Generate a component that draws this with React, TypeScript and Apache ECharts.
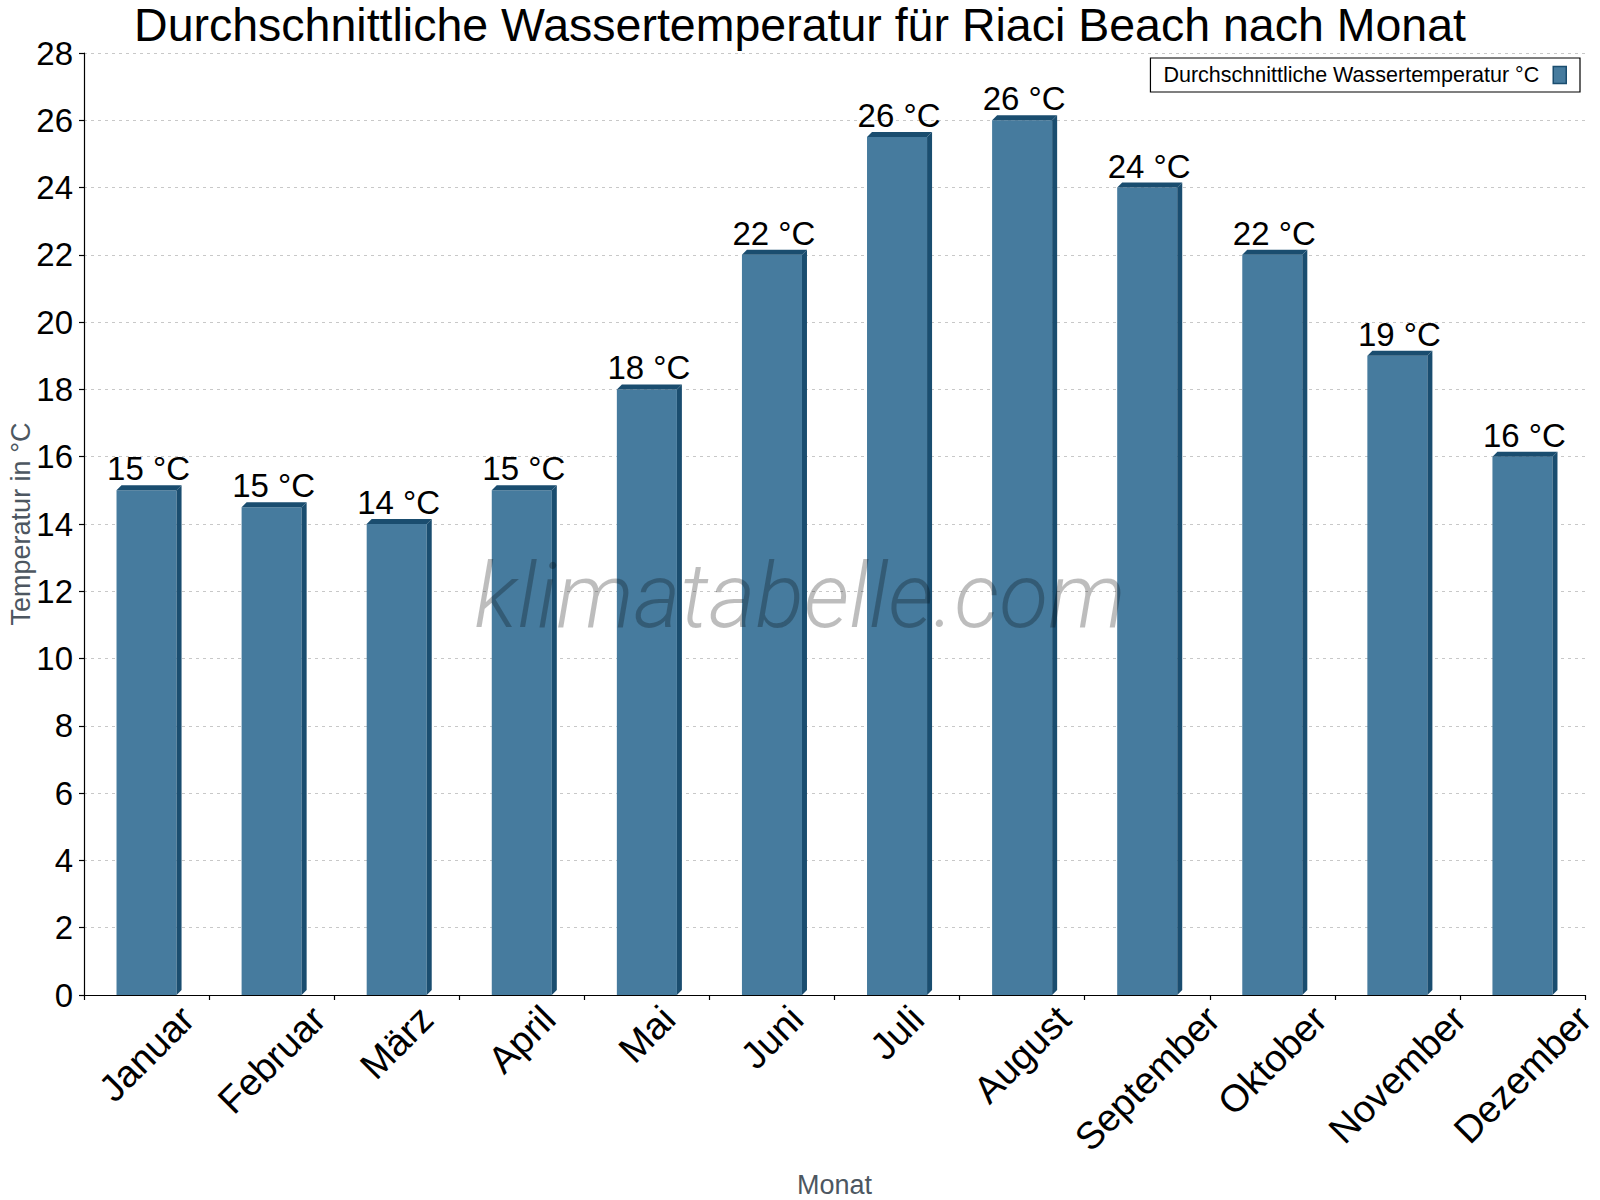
import React, { useEffect, useRef } from 'react';
import * as echarts from 'echarts';

const MONTHS = ['Januar', 'Februar', 'März', 'April', 'Mai', 'Juni', 'Juli', 'August', 'September', 'Oktober', 'November', 'Dezember'];
const WATER_TEMPS = [15, 14.5, 14, 15, 18, 22, 25.5, 26, 24, 22, 19, 16];
const Y_MIN = 0;
const Y_MAX = 28;
const Y_STEP = 2;

const TITLE = 'Durchschnittliche Wassertemperatur für Riaci Beach nach Monat';
const SERIES_NAME = 'Durchschnittliche Wassertemperatur °C';
const X_NAME = 'Monat';
const Y_NAME = 'Temperatur in °C';
const WATERMARK = 'klimatabelle.com';

const FRONT = '#467b9e';
const DARK = '#1a4d6f';
const FONT = '"Liberation Sans", Arial, Helvetica, sans-serif';
const CAT_SIZE = 38;
const DEPTH = 5;

// canvas used only to measure month label widths
const measureCtx = document.createElement('canvas').getContext('2d');
const textWidth = (t: string) => {
  if (!measureCtx) return t.length * CAT_SIZE * 0.55;
  measureCtx.font = `${CAT_SIZE}px "Liberation Sans"`;
  return measureCtx.measureText(t).width;
};

export default function App() {
  const chartRef = useRef<HTMLDivElement>(null);

  useEffect(() => {
    document.body.style.margin = '0';
    if (!chartRef.current) return;
    const chart = echarts.init(chartRef.current, undefined, { renderer: 'svg' });

    const option = {
      animation: false,
      backgroundColor: '#fff',
      title: {
        text: TITLE,
        left: 'center',
        top: 1,
        padding: 0,
        textStyle: { fontFamily: FONT, fontSize: 46.5, fontWeight: 'normal', color: '#000' }
      },
      legend: {
        data: [{ name: SERIES_NAME, icon: 'rect', itemStyle: { color: FRONT, borderColor: DARK, borderWidth: 1.5 } }],
        right: 20,
        top: 58,
        align: 'right',
        itemWidth: 13,
        itemHeight: 17,
        padding: [6, 13, 6, 13],
        borderColor: '#000',
        borderWidth: 1.2,
        borderRadius: 0,
        selectedMode: false,
        textStyle: { fontFamily: FONT, fontSize: 21.5, color: '#000', padding: [0, 9, 0, 0] }
      },
      grid: { left: 84, right: 15, top: 53, bottom: 205, containLabel: false, outerBoundsMode: 'none' },
      xAxis: {
        type: 'category',
        data: MONTHS,
        boundaryGap: true,
        name: X_NAME,
        nameLocation: 'middle',
        nameGap: 176,
        nameMoveOverlap: false,
        nameTextStyle: { fontFamily: FONT, fontSize: 27, color: '#4d5761' },
        axisLine: { lineStyle: { color: '#000', width: 1.2 } },
        axisTick: { show: true, length: 5, lineStyle: { color: '#000', width: 1.2 } },
        axisLabel: { show: false },
        splitLine: { show: false }
      },
      yAxis: {
        type: 'value',
        min: Y_MIN,
        max: Y_MAX,
        interval: Y_STEP,
        name: Y_NAME,
        nameLocation: 'middle',
        nameGap: 50,
        nameMoveOverlap: false,
        nameTextStyle: { fontFamily: FONT, fontSize: 27, color: '#4d5761' },
        axisLine: { show: true, lineStyle: { color: '#000', width: 1.2 } },
        axisTick: { show: true, length: 5, lineStyle: { color: '#000', width: 1.2 } },
        axisLabel: { fontFamily: FONT, fontSize: 33, color: '#000', margin: 11 },
        splitLine: { show: true, lineStyle: { color: '#c8c8c8', type: [3, 4], width: 1 } }
      },
      graphic: [
        {
          type: 'text',
          x: 800,
          y: 596,
          z: 100,
          silent: true,
          style: {
            text: WATERMARK,
            align: 'center',
            verticalAlign: 'middle',
            fontFamily: 'Roboto',
            fontStyle: 'italic',
            fontWeight: 300,
            fontSize: 90,
            fill: 'rgba(0,0,0,0.26)'
          }
        }
      ],
      series: [
        {
          name: SERIES_NAME,
          type: 'custom',
          itemStyle: { color: FRONT },
          data: WATER_TEMPS.map((v, i) => [i, v]),
          encode: { x: 0, y: 1 },
          renderItem: (params: any, api: any) => {
            const i = api.value(0);
            const v = api.value(1);
            const top = api.coord([i, v]);
            const base = api.coord([i, 0]);
            const w = api.size([1, 0])[0] * 0.48;
            const x0 = top[0] - w / 2;
            const x1 = top[0] + w / 2;
            const yt = top[1];
            const yb = base[1];
            return {
              type: 'group',
              children: [
                { type: 'rect', shape: { x: x0, y: yt, width: w, height: yb - yt }, style: { fill: FRONT } },
                {
                  type: 'polygon',
                  shape: { points: [[x0, yt], [x0 + DEPTH, yt - DEPTH], [x1 + DEPTH, yt - DEPTH], [x1, yt]] },
                  style: { fill: DARK }
                },
                {
                  type: 'polygon',
                  shape: { points: [[x1, yt], [x1 + DEPTH, yt - DEPTH], [x1 + DEPTH, yb - DEPTH], [x1, yb]] },
                  style: { fill: DARK }
                },
                {
                  type: 'text',
                  style: {
                    text: `${Math.round(v)} °C`,
                    x: top[0] + 2,
                    y: yt - DEPTH,
                    align: 'center',
                    verticalAlign: 'bottom',
                    fontFamily: FONT,
                    fontSize: 33,
                    fill: '#000'
                  }
                }
              ]
            };
          }
        },
        {
          type: 'custom',
          silent: true,
          data: MONTHS.map((_, i) => [i, 0]),
          encode: { x: 0, y: 1 },
          renderItem: (params: any, api: any) => {
            const i = api.value(0);
            const p = api.coord([i, 0]);
            const label = MONTHS[i];
            const L = textWidth(label);
            const cy = p[1] + 8 + 0.3536 * (L + 0.72 * CAT_SIZE);
            return {
              type: 'text',
              x: p[0],
              y: cy,
              rotation: Math.PI / 4,
              style: {
                text: label,
                x: 0,
                y: 0,
                align: 'center',
                verticalAlign: 'middle',
                fontFamily: FONT,
                fontSize: CAT_SIZE,
                fill: '#000'
              }
            };
          }
        }
      ]
    };

    chart.setOption(option);

    return () => {
      chart.dispose();
    };
  }, []);

  return <div ref={chartRef} style={{ width: 1600, height: 1200 }} />;
}
